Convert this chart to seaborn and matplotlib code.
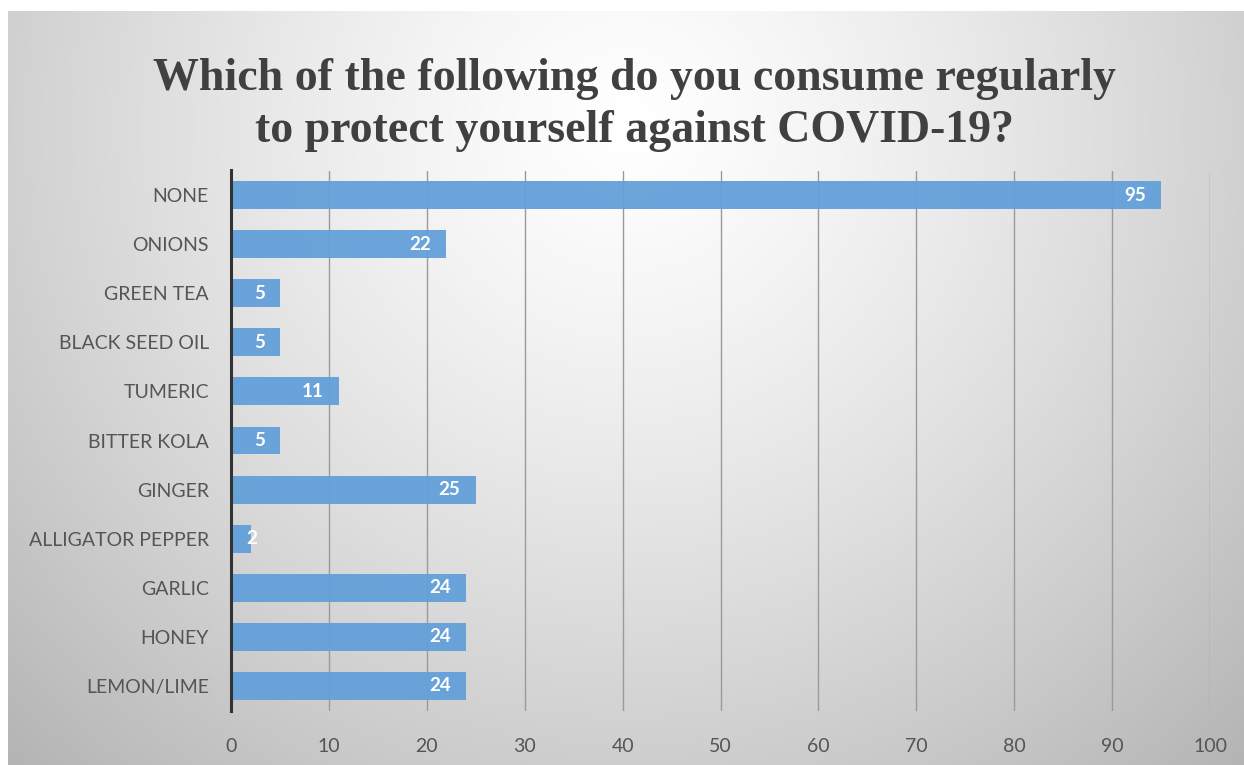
import numpy as np
import matplotlib
matplotlib.use("Agg")
import matplotlib.pyplot as plt
import seaborn as sns

# --- Data ---
categories = ["NONE", "ONIONS", "GREEN TEA", "BLACK SEED OIL", "TUMERIC",
              "BITTER KOLA", "GINGER", "ALLIGATOR PEPPER", "GARLIC",
              "HONEY", "LEMON/LIME"]
counts = [95, 22, 5, 5, 11, 5, 25, 2, 24, 24, 24]
x_ticks = list(range(0, 101, 10))

TITLE = "Which of the following do you consume regularly\nto protect yourself against COVID-19?"
BAR_COLOR = "#63a0d9"
TEXT_GREY = "#555555"

sns.set_theme(style="white")
plt.rcParams["font.family"] = ["Lato", "DejaVu Sans"]

fig = plt.figure(figsize=(12.44, 7.65), dpi=100)
fig.patch.set_facecolor("white")

# --- radial gradient background (chart area) ---
bg = fig.add_axes([8 / 1244, 0, 1 - 8 / 1244, 1 - 11 / 765])
h, w = 300, 480
yy, xx = np.mgrid[0:h, 0:w]
cx, cy = w * 0.5, h * 0.15
r = np.sqrt(((xx - cx) / (w * 0.62)) ** 2 + ((yy - cy) / (h * 1.0)) ** 2)
shade = 1.0 - 0.24 * np.clip(r, 0, 1.2) ** 1.3
bg.imshow(np.dstack([shade] * 3), aspect="auto", interpolation="bicubic",
          extent=[0, 1, 0, 1], origin="upper")
bg.axis("off")

# --- bar chart ---
ax = fig.add_axes([231 / 1244, 1 - 710.5 / 765, (1210 - 231) / 1244, (710.5 - 170.5) / 765])
ax.patch.set_alpha(0)
sns.barplot(x=counts, y=categories, orient="h", color=BAR_COLOR,
            saturation=1, width=0.57, linewidth=0, alpha=0.95, ax=ax)

ax.set_xlim(0, 100)
ax.set_xticks(x_ticks)
ax.set_xlabel("")
ax.set_ylabel("")
ax.grid(axis="x", color="#9a9a9a", linewidth=1.0)
ax.set_axisbelow(True)
for side in ["top", "right", "bottom"]:
    ax.spines[side].set_visible(False)
ax.spines["left"].set_color("#333333")
ax.spines["left"].set_linewidth(2.2)
ax.spines["left"].set_zorder(5)

ax.tick_params(axis="x", length=0, pad=20, labelsize=14, labelcolor=TEXT_GREY)
ax.tick_params(axis="y", length=0, pad=16, labelsize=14, labelcolor=TEXT_GREY)

# value labels, right aligned inside the bar end (centred on the end if the bar is tiny)
for patch, val in zip(ax.patches, counts):
    y = patch.get_y() + patch.get_height() / 2
    if val < 4:
        ax.annotate(str(val), (patch.get_width(), y), xytext=(1, 0),
                    textcoords="offset points", ha="center", va="center",
                    color="white", fontsize=13.5, fontweight="bold")
    else:
        ax.annotate(str(val), (patch.get_width(), y), xytext=(-11, 0),
                    textcoords="offset points", ha="right", va="center",
                    color="white", fontsize=13.5, fontweight="bold")

fig.text(0.51, 0.863, TITLE, ha="center", va="center",
         fontsize=33, fontweight="bold", family="Liberation Serif",
         color="#404040", linespacing=1.3)

fig.savefig("out.png", dpi=100)
